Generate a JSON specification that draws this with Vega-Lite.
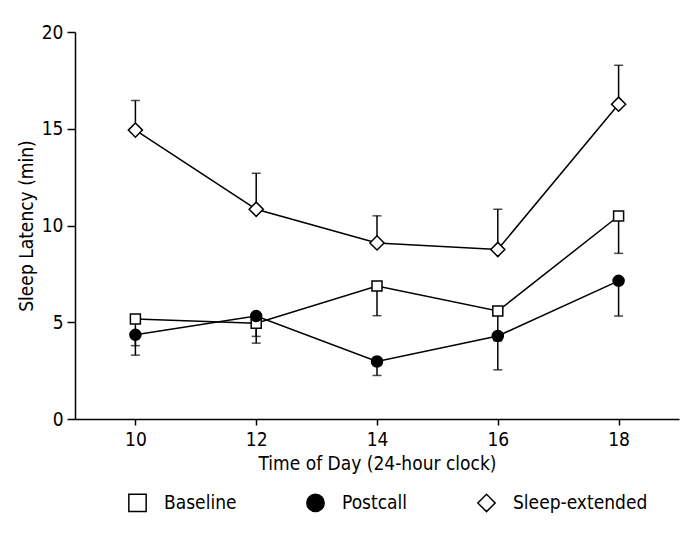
{
  "$schema": "https://vega.github.io/schema/vega-lite/v6.json",
  "autosize": "none",
  "width": 604,
  "height": 387,
  "padding": {"left": 75, "top": 32, "right": 4, "bottom": 122},
  "background": "white",
  "config": {
    "view": {"stroke": null},
    "font": "DejaVu Sans Condensed, DejaVu Sans, sans-serif",
    "axis": {
      "domainColor": "black", "domainWidth": 1.5, "tickColor": "black", "tickWidth": 1.5,
      "labelColor": "black", "titleColor": "black", "labelFontSize": 19, "titleFontSize": 19,
      "titleFontWeight": "normal", "grid": false,
      "labelFont": "DejaVu Sans Condensed, DejaVu Sans, sans-serif",
      "titleFont": "DejaVu Sans Condensed, DejaVu Sans, sans-serif"
    },
    "legend": {
      "labelFont": "DejaVu Sans Condensed, DejaVu Sans, sans-serif"
    }
  },
  "data": {
    "values": [
      {"series": "Baseline", "time": 10, "value": 5.17, "err": 3.79},
      {"series": "Baseline", "time": 12, "value": 4.95, "err": 3.92},
      {"series": "Baseline", "time": 14, "value": 6.87, "err": 5.34},
      {"series": "Baseline", "time": 16, "value": 5.58, "err": 4.04},
      {"series": "Baseline", "time": 18, "value": 10.49, "err": 8.56},
      {"series": "Postcall", "time": 10, "value": 4.35, "err": 3.30},
      {"series": "Postcall", "time": 12, "value": 5.32, "err": 4.27},
      {"series": "Postcall", "time": 14, "value": 2.97, "err": 2.25},
      {"series": "Postcall", "time": 16, "value": 4.29, "err": 2.54},
      {"series": "Postcall", "time": 18, "value": 7.14, "err": 5.32},
      {"series": "Sleep-extended", "time": 10, "value": 14.93, "err": 16.46},
      {"series": "Sleep-extended", "time": 12, "value": 10.84, "err": 12.7},
      {"series": "Sleep-extended", "time": 14, "value": 9.1, "err": 10.5},
      {"series": "Sleep-extended", "time": 16, "value": 8.76, "err": 10.84},
      {"series": "Sleep-extended", "time": 18, "value": 16.27, "err": 18.28}
    ]
  },
  "encoding": {
    "x": {
      "field": "time", "type": "quantitative",
      "scale": {"domain": [9, 19], "nice": false, "zero": false},
      "axis": {"values": [10, 12, 14, 16, 18], "tickSize": 6, "labelPadding": 5, "titlePadding": 5, "title": "Time of Day (24-hour clock)"}
    },
    "y": {
      "field": "value", "type": "quantitative",
      "scale": {"domain": [0, 20], "nice": false},
      "axis": {"values": [0, 5, 10, 15, 20], "tickSize": 8, "labelPadding": 4, "titlePadding": 5, "title": "Sleep Latency (min)"}
    }
  },
  "layer": [
    {
      "mark": {"type": "rule", "color": "black", "strokeWidth": 1.5},
      "encoding": {
        "y2": {"field": "err"}
      }
    },
    {
      "mark": {"type": "tick", "orient": "horizontal", "color": "black", "size": 9, "thickness": 1.5},
      "encoding": {
        "y": {"field": "err", "type": "quantitative"}
      }
    },
    {
      "mark": {"type": "line", "color": "black", "strokeWidth": 1.5},
      "encoding": {
        "detail": {"field": "series"}
      }
    },
    {
      "transform": [{"filter": "datum.series === 'Baseline'"}],
      "mark": {"type": "point", "stroke": "black", "strokeWidth": 1.5, "opacity": 1, "size": 100},
      "encoding": {
        "shape": {
          "field": "series", "type": "nominal",
          "scale": {"domain": ["Baseline", "Postcall", "Sleep-extended"], "range": ["square", "circle", "diamond"]}
        },
        "fill": {
          "field": "series", "type": "nominal",
          "scale": {"domain": ["Baseline", "Postcall", "Sleep-extended"], "range": ["white", "black", "white"]},
          "legend": {
            "orient": "none", "legendX": 44, "legendY": 461, "direction": "horizontal", "title": null,
            "symbolSize": 300, "symbolStrokeWidth": 1.5, "symbolStrokeColor": "black",
            "labelFontSize": 19, "labelColor": "black", "labelOffset": 17, "columnPadding": 60,
            "padding": 0, "symbolOffset": 9,
            "encode": {
              "symbols": {
                "stroke": {"value": "black"},
                "strokeWidth": {"value": 1.5},
                "opacity": {"value": 1}
              }
            }
          }
        }
      }
    },
    {
      "transform": [{"filter": "datum.series === 'Postcall'"}],
      "mark": {"type": "point", "stroke": "black", "strokeWidth": 1.5, "opacity": 1, "size": 121},
      "encoding": {
        "shape": {"field": "series", "type": "nominal"},
        "fill": {"field": "series", "type": "nominal"}
      }
    },
    {
      "transform": [{"filter": "datum.series === 'Sleep-extended'"}],
      "mark": {"type": "point", "stroke": "black", "strokeWidth": 1.5, "opacity": 1, "size": 200},
      "encoding": {
        "shape": {"field": "series", "type": "nominal"},
        "fill": {"field": "series", "type": "nominal"}
      }
    }
  ]
}
